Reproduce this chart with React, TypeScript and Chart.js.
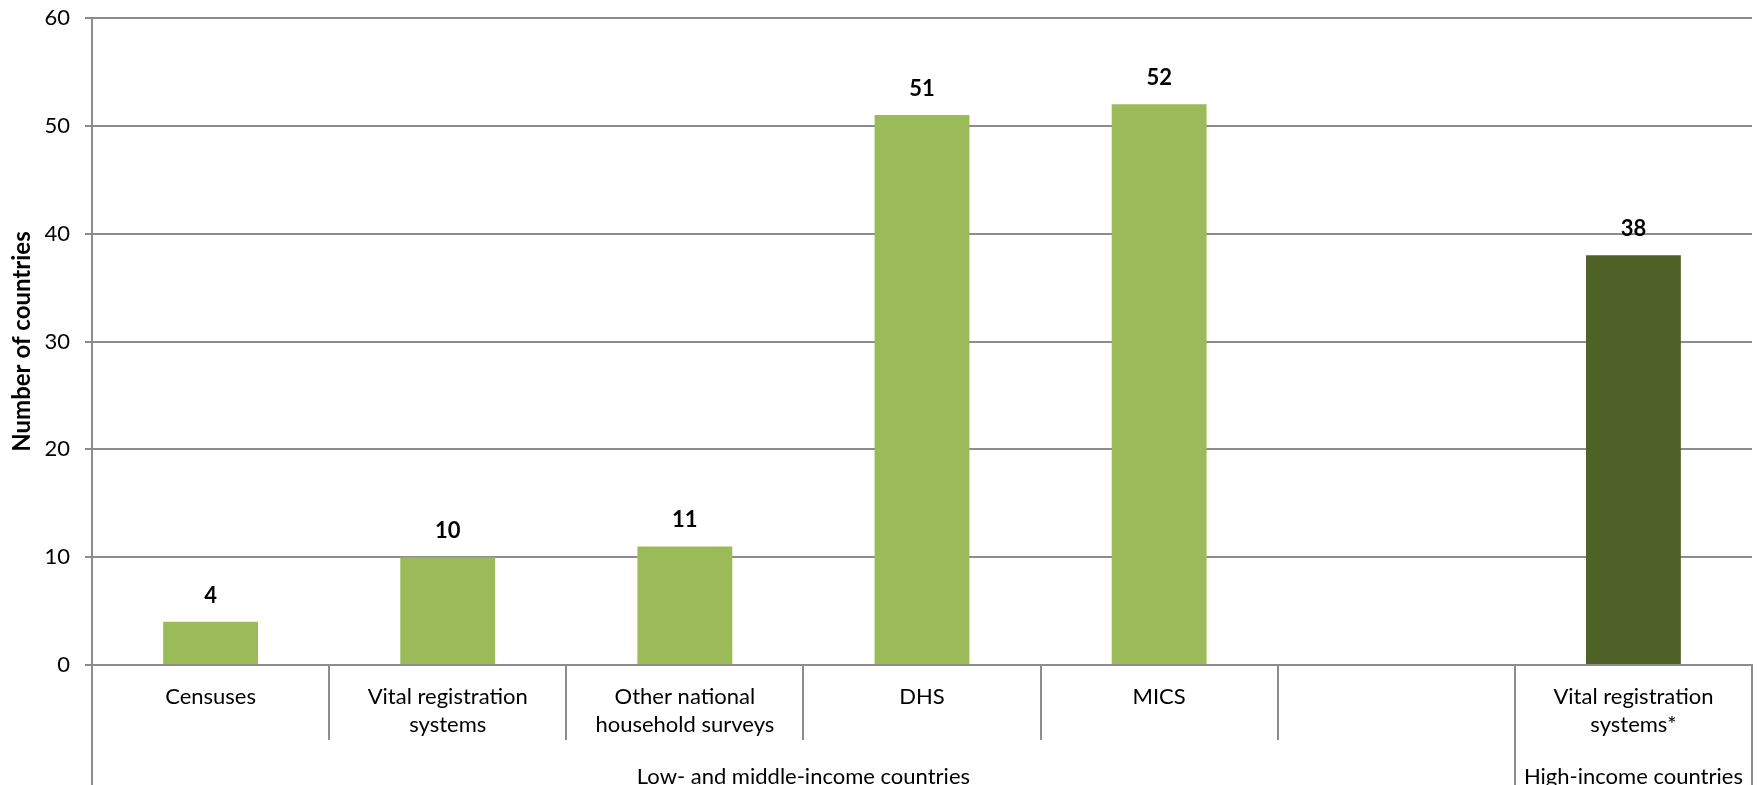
import React, { useEffect, useRef } from "react";
import { Chart, registerables } from "chart.js";

Chart.register(...registerables);

// Categories along the x axis (the empty slot separates the two income groups)
const categories: (string | string[])[] = [
  "Censuses",
  ["Vital registration", "systems"],
  ["Other national", "household surveys"],
  "DHS",
  "MICS",
  "",
  ["Vital registration", "systems*"],
];

// Number of countries per data source
const countries: (number | null)[] = [4, 10, 11, 51, 52, null, 38];

// Bar colours: low/middle-income sources vs high-income sources
const barColors = ["#9BBB59", "#9BBB59", "#9BBB59", "#9BBB59", "#9BBB59", "#9BBB59", "#4F6228"];

// Outer category groups: label and inclusive index range
const groupLabels = ["Low- and middle-income countries", "High-income countries"];
const groupStart = [0, 6];
const groupEnd = [5, 6];

const yTicks = { min: 0, max: 60, step: 10 };
const yTitle = "Number of countries";

const FONT = "Lato, 'Noto Sans', sans-serif";
const LINE = "#8c8c8c";

// Draws the two-level category axis (dividers + group names) and the value labels
const groupAxisPlugin = {
  id: "groupAxis",
  afterDraw(chart: any) {
    const ctx = chart.ctx;
    const xs = chart.scales.x;
    const area = chart.chartArea;
    const n = categories.length;
    const step = xs.getPixelForValue(1) - xs.getPixelForValue(0);
    const edge = (i: number) => xs.getPixelForValue(i) - step / 2;
    const outer = new Set<number>();
    groupStart.forEach((s) => outer.add(s));
    groupEnd.forEach((e) => outer.add(e + 1));

    ctx.save();
    ctx.strokeStyle = LINE;
    ctx.lineWidth = 2;
    for (let i = 0; i <= n; i++) {
      const x = Math.round(edge(i));
      const yEnd = outer.has(i) ? chart.height : area.bottom + 75;
      ctx.beginPath();
      ctx.moveTo(x, area.bottom);
      ctx.lineTo(x, yEnd);
      ctx.stroke();
    }

    ctx.fillStyle = "#000";
    ctx.font = `22px ${FONT}`;
    ctx.textAlign = "center";
    ctx.textBaseline = "middle";
    groupLabels.forEach((label, g) => {
      const cx = (edge(groupStart[g]) + edge(groupEnd[g] + 1)) / 2;
      ctx.fillText(label, cx, area.bottom + 112);
    });

    // Value labels above the bars
    const meta = chart.getDatasetMeta(0);
    ctx.font = `bold 22px ${FONT}`;
    meta.data.forEach((bar: any, i: number) => {
      const v = countries[i];
      if (v === null || v === undefined) return;
      ctx.fillText(String(v), bar.x, bar.y - 26);
    });
    ctx.restore();
  },
};

export default function App() {
  const canvasRef = useRef<HTMLCanvasElement | null>(null);

  useEffect(() => {
    if (!canvasRef.current) return;
    const chart = new Chart(canvasRef.current, {
      type: "bar",
      data: {
        labels: categories,
        datasets: [
          {
            data: countries,
            backgroundColor: barColors,
            borderWidth: 0,
            categoryPercentage: 1,
            barPercentage: 0.4,
          },
        ],
      },
      options: {
        responsive: false,
        animation: false,
        layout: { padding: { top: 18, right: 7, bottom: 0, left: 0 } },
        plugins: {
          legend: { display: false },
          tooltip: { enabled: false },
        },
        scales: {
          x: {
            grid: { display: false, drawTicks: false },
            border: { display: true, color: LINE, width: 2 },
            ticks: {
              color: "#000",
              font: { family: FONT, size: 22, lineHeight: 1.27 },
              padding: 18,
              maxRotation: 0,
              autoSkip: false,
            },
            afterFit(scale: any) {
              scale.height = 120;
            },
          },
          y: {
            min: yTicks.min,
            max: yTicks.max,
            ticks: {
              stepSize: yTicks.step,
              color: "#000",
              font: { family: FONT, size: 22 },
              padding: 15,
            },
            grid: { color: LINE, lineWidth: 2, tickLength: 7 },
            border: { display: true, color: LINE, width: 2 },
            title: {
              display: true,
              text: yTitle,
              color: "#000",
              font: { family: FONT, size: 24, weight: "bold" },
              padding: { top: 8, bottom: 0 },
            },
            afterFit(scale: any) {
              scale.width = 92;
              scale.paddingTop = 0;
              scale.paddingBottom = 0;
            },
          },
        },
      },
      plugins: [groupAxisPlugin],
    });
    return () => chart.destroy();
  }, []);

  return (
    <div style={{ position: "fixed", left: 0, top: 0, width: 1759, height: 785, background: "#fff" }}>
      <canvas ref={canvasRef} width={1759} height={785} />
    </div>
  );
}
